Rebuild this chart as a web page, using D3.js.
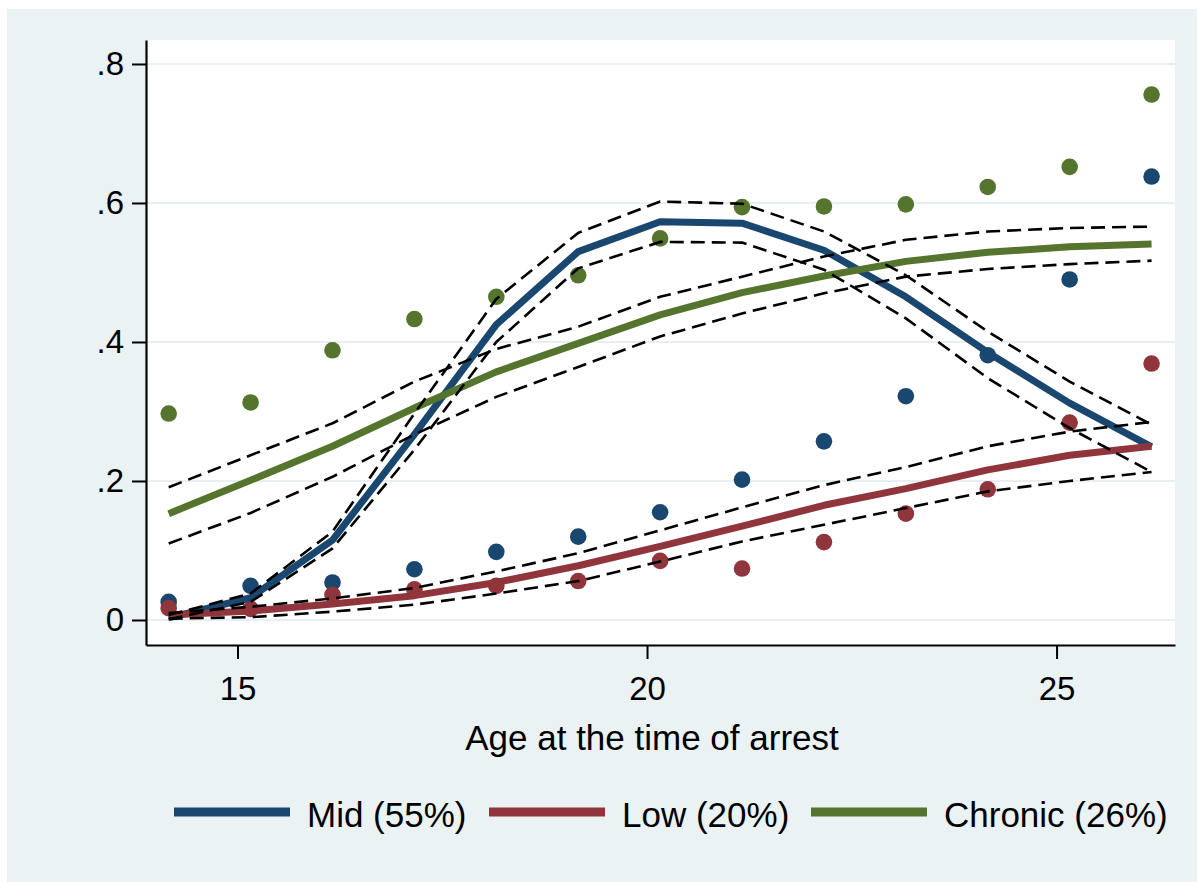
<!DOCTYPE html>
<html>
<head>
<meta charset="utf-8">
<script src="https://cdn.jsdelivr.net/npm/d3@7"></script>
<style>
  body { margin: 0; background: #fff; }
  svg { display: block; font-family: "Liberation Sans", Arial, sans-serif; }
</style>
</head>
<body>
<svg id="chart" width="1198" height="882"></svg>
<script>
// ages of arrest (x) and group shares per age
const ages = [14.16, 15.16, 16.16, 17.16, 18.16, 19.16, 20.16, 21.16, 22.16, 23.16, 24.16, 25.16, 26.16];

const midObs     = [0.026, 0.049, 0.054, 0.073, 0.098, 0.120, 0.155, 0.202, 0.257, 0.322, 0.381, 0.490, 0.638];
const lowObs     = [0.017, 0.016, 0.036, 0.044, 0.049, 0.056, 0.085, 0.074, 0.112, 0.153, 0.188, 0.284, 0.369];
const chronicObs = [0.297, 0.313, 0.388, 0.433, 0.465, 0.496, 0.549, 0.594, 0.595, 0.598, 0.623, 0.652, 0.756];

const midFit = [0.003, 0.032, 0.115, 0.267, 0.425, 0.530, 0.573, 0.571, 0.532, 0.465, 0.385, 0.312, 0.249];
const midLo  = [0.001, 0.026, 0.103, 0.245, 0.400, 0.506, 0.544, 0.543, 0.504, 0.434, 0.348, 0.276, 0.213];
const midHi  = [0.007, 0.038, 0.127, 0.297, 0.462, 0.557, 0.602, 0.599, 0.559, 0.496, 0.415, 0.343, 0.281];

const lowFit = [0.007, 0.013, 0.023, 0.035, 0.054, 0.078, 0.106, 0.135, 0.165, 0.189, 0.216, 0.237, 0.250];
const lowLo  = [0.002, 0.004, 0.012, 0.022, 0.038, 0.056, 0.084, 0.113, 0.137, 0.161, 0.185, 0.200, 0.213];
const lowHi  = [0.010, 0.019, 0.031, 0.046, 0.070, 0.096, 0.129, 0.162, 0.194, 0.220, 0.250, 0.271, 0.285];

const chronicFit = [0.153, 0.201, 0.250, 0.305, 0.357, 0.398, 0.439, 0.471, 0.495, 0.516, 0.529, 0.537, 0.541];
const chronicLo  = [0.110, 0.154, 0.206, 0.267, 0.321, 0.364, 0.408, 0.441, 0.470, 0.494, 0.505, 0.512, 0.517];
const chronicHi  = [0.191, 0.237, 0.283, 0.343, 0.390, 0.422, 0.465, 0.494, 0.523, 0.547, 0.559, 0.564, 0.566];

const xTicks = [15, 20, 25];
const yTicks = [0, 0.2, 0.4, 0.6, 0.8];
const yTickLabels = ['0', '.2', '.4', '.6', '.8'];
const groupNames = ['Mid (55%)', 'Low (20%)', 'Chronic (26%)'];

const colors = ['#1a476f', '#90353b', '#55752f'];

const svg = d3.select('#chart');

// outer background
svg.append('rect')
    .attr('x', 7).attr('y', 9)
    .attr('width', 1190).attr('height', 873)
    .attr('fill', '#eaf2f3');

const plot = {left: 146, right: 1175, top: 40, bottom: 645};

svg.append('rect')
    .attr('x', plot.left).attr('y', plot.top)
    .attr('width', plot.right - plot.left).attr('height', plot.bottom - plot.top)
    .attr('fill', '#fff');

const x = d3.scaleLinear().domain([13.883, 26.446]).range([plot.left, plot.right]);
const y = d3.scaleLinear().domain([-0.036, 0.8345]).range([plot.bottom, plot.top]);

// grid
svg.append('g')
    .selectAll('line')
    .data(yTicks)
    .join('line')
    .attr('x1', plot.left).attr('x2', plot.right)
    .attr('y1', d => y(d)).attr('y2', d => y(d))
    .attr('stroke', '#e6eff1')
    .attr('stroke-width', 2);

// data for the three groups
const groups = [
    {obs: midObs, fit: midFit, lo: midLo, hi: midHi},
    {obs: lowObs, fit: lowFit, lo: lowLo, hi: lowHi},
    {obs: chronicObs, fit: chronicFit, lo: chronicLo, hi: chronicHi}
];

const line = d3.line()
    .x((d, i) => x(ages[i]))
    .y(d => y(d));

// observed shares
groups.forEach((g, k) => {
    svg.append('g')
        .selectAll('circle')
        .data(g.obs)
        .join('circle')
        .attr('cx', (d, i) => x(ages[i]))
        .attr('cy', d => y(d))
        .attr('r', 8.3)
        .attr('fill', colors[k]);
});

// fitted trajectories
groups.forEach((g, k) => {
    svg.append('path')
        .attr('d', line(g.fit))
        .attr('fill', 'none')
        .attr('stroke', colors[k])
        .attr('stroke-width', 7)
        .attr('stroke-linejoin', 'round');
});

// confidence bands
groups.forEach(g => {
    [g.lo, g.hi].forEach(band => {
        svg.append('path')
            .attr('d', line(band))
            .attr('fill', 'none')
            .attr('stroke', '#000')
            .attr('stroke-width', 2.6)
            .attr('stroke-dasharray', '14,7');
    });
});

// axes
const yAxis = d3.axisLeft(y)
    .tickValues(yTicks)
    .tickFormat((d, i) => yTickLabels[i])
    .tickSize(14)
    .tickSizeOuter(0)
    .tickPadding(8);

const gy = svg.append('g')
    .attr('transform', `translate(${plot.left},0)`)
    .call(yAxis);

const xAxis = d3.axisBottom(x)
    .tickValues(xTicks)
    .tickFormat(d3.format('d'))
    .tickSize(14)
    .tickSizeOuter(0)
    .tickPadding(18);

const gx = svg.append('g')
    .attr('transform', `translate(0,${plot.bottom})`)
    .call(xAxis);

[gx, gy].forEach(g => {
    g.select('.domain').attr('stroke', '#000').attr('stroke-width', 2.2);
    g.selectAll('.tick line').attr('stroke', '#000').attr('stroke-width', 2);
    g.selectAll('.tick text')
        .attr('fill', '#000')
        .style('font-size', '33px')
        .style('font-family', '"Liberation Sans", Arial, sans-serif');
});

svg.append('text')
    .attr('x', 652)
    .attr('y', 750)
    .attr('text-anchor', 'middle')
    .style('font-size', '35px')
    .text('Age at the time of arrest');

// legend
const legendX = [174, 489, 811];
const legend = svg.append('g')
    .selectAll('g')
    .data(groupNames)
    .join('g')
    .attr('transform', (d, i) => `translate(${legendX[i]},812)`);

legend.append('line')
    .attr('x1', 0).attr('x2', 116)
    .attr('y1', 0).attr('y2', 0)
    .attr('stroke', (d, i) => colors[i])
    .attr('stroke-width', 9);

legend.append('text')
    .attr('x', 133)
    .attr('y', 15)
    .style('font-size', '35px')
    .text(d => d);
</script>
</body>
</html>
